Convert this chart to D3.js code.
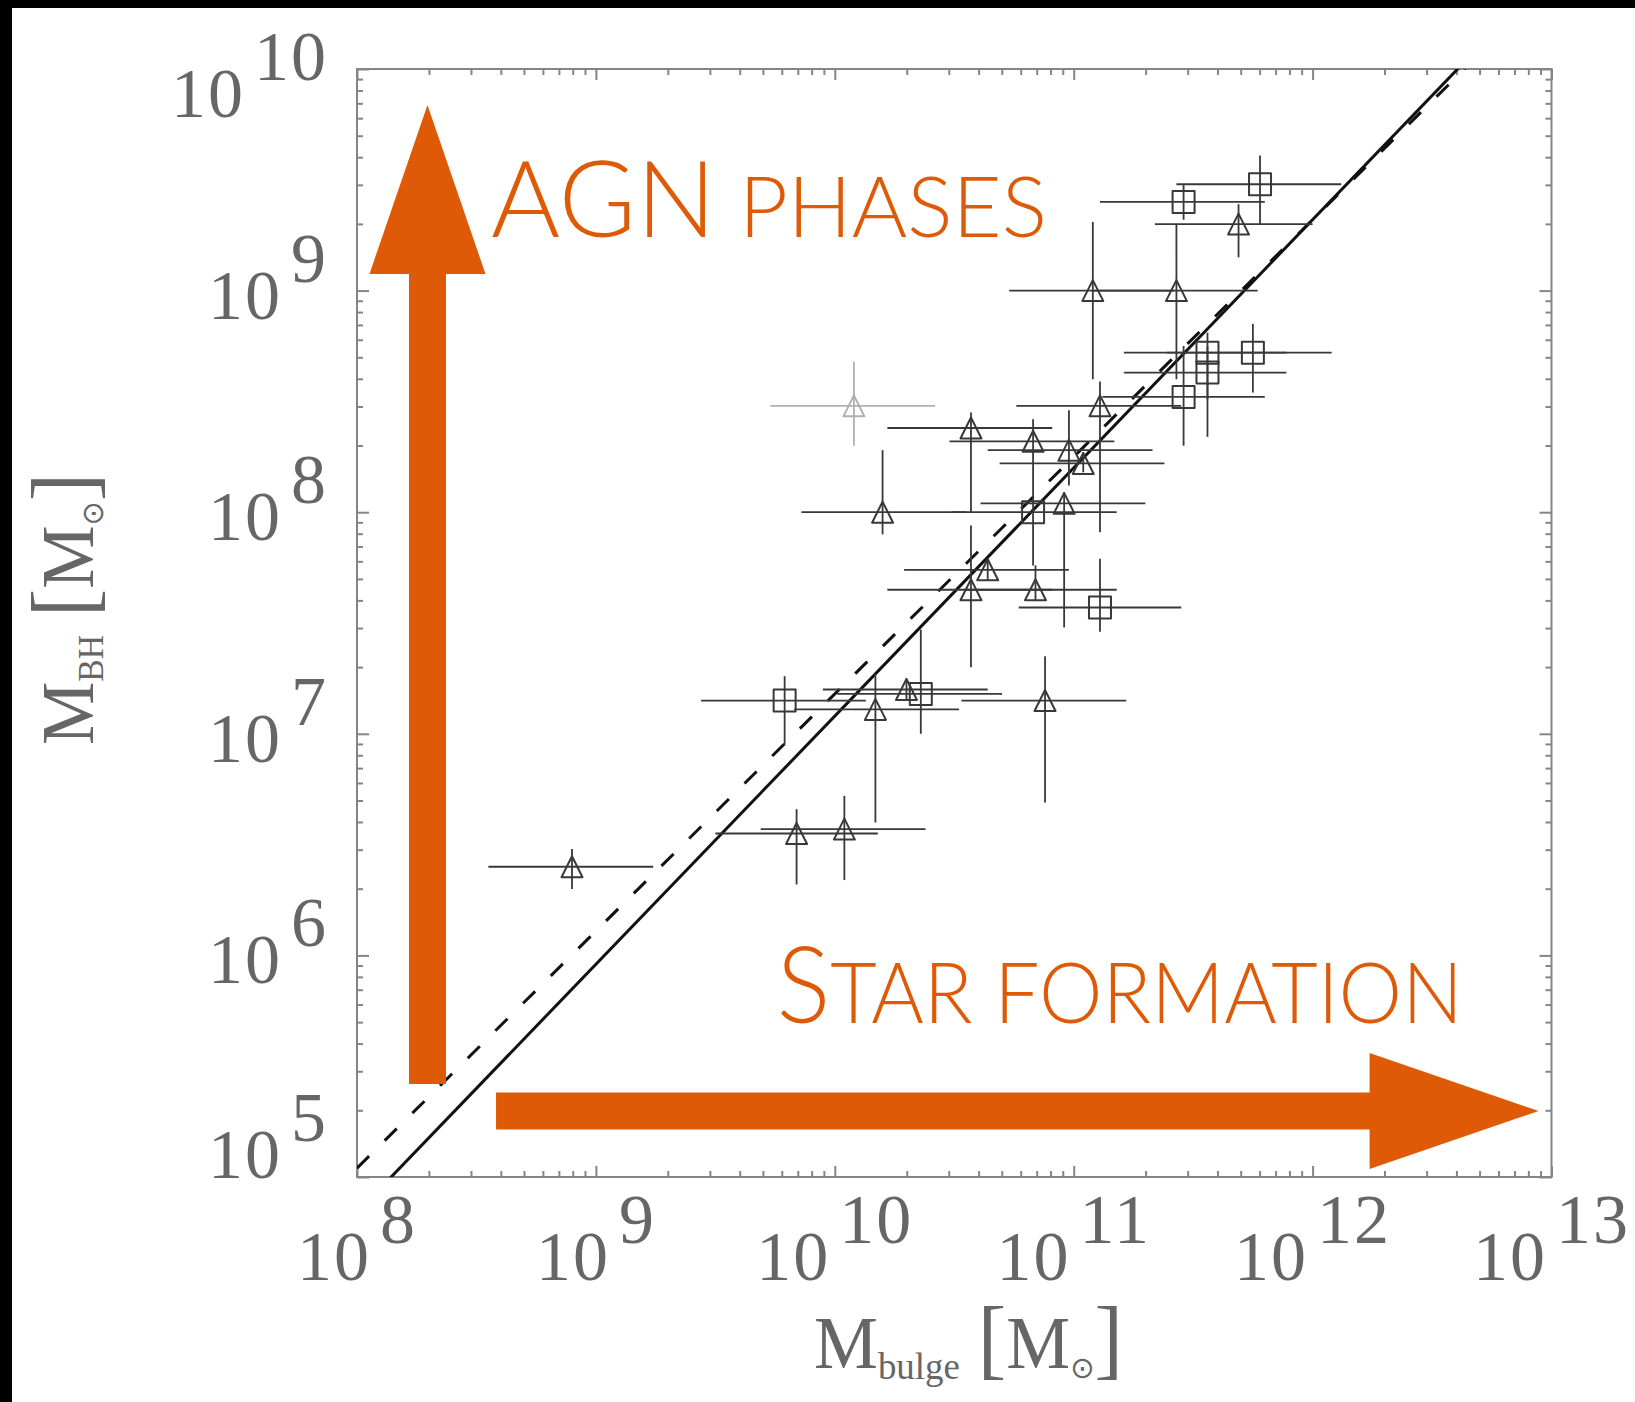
<!DOCTYPE html>
<html>
<head>
<meta charset="utf-8">
<script src="https://cdn.jsdelivr.net/npm/d3@7/dist/d3.min.js"></script>
<style>
body { margin: 0; background: #fff; }
svg { display: block; }
</style>
</head>
<body>
<div id="chart"></div>
<script>
// one entry per galaxy, all masses as log10(M / Msun)
var marker = ["t","t","t","t","t","t","t","t","t","t","t","t","t","t","t","t","t","t","t","t",
              "s","s","s","s","s","s","s","s","s","s"];
var logMbulge   = [8.90, 9.84, 10.04, 10.17, 10.30, 10.88, 10.57, 10.64, 10.84, 10.20, 10.96, 10.57, 10.83, 10.98, 11.04, 11.11, 11.08, 11.43, 11.69, 10.08,
                   9.79, 10.36, 10.83, 11.11, 11.46, 11.56, 11.56, 11.75, 11.46, 11.78];
var logMbulgeLo = [8.55, 9.50, 9.69, 9.83, 9.95, 10.53, 10.22, 10.29, 10.54, 9.86, 10.61, 10.22, 10.48, 10.64, 10.69, 10.76, 10.73, 11.08, 11.34, 9.73,
                   9.44, 10.01, 10.49, 10.77, 11.12, 11.21, 11.21, 11.39, 11.11, 11.43];
var logMbulgeHi = [9.24, 10.18, 10.38, 10.52, 10.64, 11.22, 10.91, 10.98, 11.18, 10.55, 11.30, 10.91, 11.17, 11.33, 11.38, 11.45, 11.42, 11.77, 12.00, 10.42,
                   10.13, 10.70, 11.18, 11.45, 11.80, 11.89, 11.89, 12.08, 11.80, 12.12];
var logMbh      = [6.40, 6.55, 6.57, 7.11, 7.20, 7.15, 7.65, 7.74, 7.65, 8.00, 8.04, 8.38, 8.32, 8.28, 8.22, 8.48, 9.00, 9.00, 9.30, 8.48,
                   7.15, 7.18, 8.00, 7.57, 8.52, 8.72, 8.63, 8.72, 9.40, 9.48];
var logMbhLo    = [6.30, 6.32, 6.34, 6.60, 7.15, 6.69, 7.30, 7.69, 7.60, 7.90, 7.48, 8.00, 8.19, 8.12, 8.18, 7.91, 8.60, 8.60, 9.15, 8.30,
                   6.95, 7.00, 7.76, 7.46, 8.30, 8.51, 8.34, 8.54, 9.32, 9.30];
var logMbhHi    = [6.48, 6.66, 6.72, 7.27, 7.25, 7.35, 7.94, 7.79, 7.76, 8.28, 8.09, 8.45, 8.42, 8.46, 8.27, 8.59, 9.31, 9.30, 9.39, 8.68,
                   7.26, 7.47, 8.19, 7.79, 8.75, 8.81, 8.75, 8.85, 9.48, 9.61];
var faded       = [0,0,0,0,0,0,0,0,0,0,0,0,0,0,0,0,0,0,0,1, 0,0,0,0,0,0,0,0,0,0];

// fitted relations: log MBH = norm + slope * (log Mbulge - 11)
var fitNorm  = [8.20, 8.25];
var fitSlope = [1.12, 1.07];
var fitDash  = [null, "17,22"];

var xTickExp = [8, 9, 10, 11, 12, 13];
var yTickExp = [5, 6, 7, 8, 9, 10];

// annotation arrows and words (data units, log10)
var arrowFrom = [[8.295, 5.42], [8.582, 5.298]];
var arrowTo   = [[8.295, 9.838], [12.946, 5.298]];
var wordBig   = ["AGN", "S"];
var wordSmall = [" PHASES", "TAR FORMATION"];
var wordAt    = [[8.561, 9.240], [9.757, 5.695]];
var wordLen   = [556, 686];

var W = 1635, H = 1402;
var orange = "#de5a06";
var labGrey = "#666";
var frameGrey = "#858585";

var svg = d3.select("#chart").append("svg")
    .attr("width", W)
    .attr("height", H);

svg.append("rect").attr("width", W).attr("height", H).attr("fill", "#fff");
svg.append("rect").attr("width", W).attr("height", 8).attr("fill", "#000");
svg.append("rect").attr("width", 12).attr("height", H).attr("fill", "#000");

var pLeft = 357, pRight = 1551.5, pTop = 69, pBottom = 1177;

var x = d3.scaleLog().domain([1e8, 1e13]).range([pLeft, pRight]);
var y = d3.scaleLog().domain([1e5, 1e10]).range([pBottom, pTop]);
function px(v) { return x(Math.pow(10, v)); }
function py(v) { return y(Math.pow(10, v)); }

// ticks on all four sides
var xMajor = xTickExp.map(function(e) { return Math.pow(10, e); });
var yMajor = yTickExp.map(function(e) { return Math.pow(10, e); });
var xMinor = [], yMinor = [];
for (var e = 8; e < 13; e++) for (var k = 2; k < 10; k++) xMinor.push(k * Math.pow(10, e));
for (var e = 5; e < 10; e++) for (var k = 2; k < 10; k++) yMinor.push(k * Math.pow(10, e));

function tickAxis(axis, vals, len, tr) {
    var g = svg.append("g").attr("transform", tr)
        .call(axis.tickValues(vals).tickSize(-len).tickFormat(""));
    g.select(".domain").remove();
    g.selectAll("line").attr("stroke", frameGrey).attr("stroke-width", 2);
}
tickAxis(d3.axisBottom(x), xMajor, 11, "translate(0," + pBottom + ")");
tickAxis(d3.axisBottom(x), xMinor, 6, "translate(0," + pBottom + ")");
tickAxis(d3.axisTop(x), xMajor, 11, "translate(0," + pTop + ")");
tickAxis(d3.axisTop(x), xMinor, 6, "translate(0," + pTop + ")");
tickAxis(d3.axisLeft(y), yMajor, 12, "translate(" + pLeft + ",0)");
tickAxis(d3.axisLeft(y), yMinor, 6, "translate(" + pLeft + ",0)");
tickAxis(d3.axisRight(y), yMajor, 12, "translate(" + pRight + ",0)");
tickAxis(d3.axisRight(y), yMinor, 6, "translate(" + pRight + ",0)");

svg.append("rect")
    .attr("x", pLeft).attr("y", pTop)
    .attr("width", pRight - pLeft).attr("height", pBottom - pTop)
    .attr("fill", "none")
    .attr("stroke", frameGrey)
    .attr("stroke-width", 2);

// tick labels 10^n
function powLabel(t, e) {
    t.append("tspan").text("10");
    t.append("tspan").attr("dx", 9).attr("dy", -37).text(e);
}
svg.append("g").selectAll("text").data(xTickExp).enter().append("text")
    .attr("x", function(d) { return px(d); })
    .attr("y", pBottom + 103)
    .attr("text-anchor", "middle")
    .attr("font-family", "'Liberation Serif', 'DejaVu Serif', serif")
    .attr("font-size", 70)
    .attr("letter-spacing", 2)
    .attr("fill", labGrey)
    .each(function(d) { powLabel(d3.select(this), d); });

svg.append("g").selectAll("text").data(yTickExp).enter().append("text")
    .attr("x", pLeft - 29)
    .attr("y", function(d, i) {
        // outermost labels are pulled inside the axis range
        var off = 28;
        if (i == 0) off = 1;
        if (i == yTickExp.length - 1) off = 48;
        return py(d) + off;
    })
    .attr("text-anchor", "end")
    .attr("font-family", "'Liberation Serif', 'DejaVu Serif', serif")
    .attr("font-size", 70)
    .attr("letter-spacing", 2)
    .attr("fill", labGrey)
    .each(function(d) { powLabel(d3.select(this), d); });

// axis titles
function title(t, sub, subSize, subDy) {
    t.append("tspan").text("M");
    t.append("tspan").attr("font-size", subSize).attr("dy", subDy).text(sub);
    t.append("tspan").attr("dy", -subDy).text(" ");
    t.append("tspan").attr("font-size", 88).text("[");
    t.append("tspan").text("M");
    t.append("tspan").attr("font-size", 30).attr("dy", 10)
        .attr("font-family", "'DejaVu Sans', sans-serif").text("\u2299");
    t.append("tspan").attr("font-size", 88).attr("dy", -10).text("]");
}
var xt = svg.append("text")
    .attr("x", 814).attr("y", 1368)
    .attr("font-family", "'Liberation Serif', 'DejaVu Serif', serif")
    .attr("font-size", 74)
    .attr("fill", labGrey)
    .attr("textLength", 309)
    .attr("lengthAdjust", "spacingAndGlyphs");
title(xt, "bulge", 38, 11);

var yt = svg.append("text")
    .attr("transform", "translate(93,745) rotate(-90)")
    .attr("font-family", "'Liberation Serif', 'DejaVu Serif', serif")
    .attr("font-size", 74)
    .attr("fill", labGrey)
    .attr("textLength", 272)
    .attr("lengthAdjust", "spacingAndGlyphs");
title(yt, "BH", 35, 10);

// plot area
svg.append("clipPath").attr("id", "clip").append("rect")
    .attr("x", pLeft).attr("y", pTop)
    .attr("width", pRight - pLeft).attr("height", pBottom - pTop);
var plot = svg.append("g").attr("clip-path", "url(#clip)");

// fit lines
plot.selectAll(".fit").data(fitNorm).enter().append("line")
    .attr("class", "fit")
    .attr("x1", px(8)).attr("x2", px(13))
    .attr("y1", function(d, i) { return py(d + fitSlope[i] * (8 - 11)); })
    .attr("y2", function(d, i) { return py(d + fitSlope[i] * (13 - 11)); })
    .attr("stroke", "#111")
    .attr("stroke-width", 3)
    .attr("stroke-dasharray", function(d, i) { return fitDash[i]; });

// error bars and markers
var idx = d3.range(logMbulge.length);
var pts = plot.selectAll(".pt").data(idx).enter().append("g")
    .attr("class", "pt")
    .attr("stroke", function(i) { return faded[i] ? "#b0b0b0" : "#383838"; })
    .attr("fill", "none");

pts.append("line")
    .attr("x1", function(i) { return px(logMbulgeLo[i]); })
    .attr("x2", function(i) { return px(logMbulgeHi[i]); })
    .attr("y1", function(i) { return py(logMbh[i]); })
    .attr("y2", function(i) { return py(logMbh[i]); })
    .attr("stroke-width", 1.8);
pts.append("line")
    .attr("x1", function(i) { return px(logMbulge[i]); })
    .attr("x2", function(i) { return px(logMbulge[i]); })
    .attr("y1", function(i) { return py(logMbhLo[i]); })
    .attr("y2", function(i) { return py(logMbhHi[i]); })
    .attr("stroke-width", 1.8);

var triangle = "M0,-10.5L10.5,10.5L-10.5,10.5Z";
var square = "M-11,-11H11V11H-11Z";
pts.append("path")
    .attr("transform", function(i) { return "translate(" + px(logMbulge[i]) + "," + py(logMbh[i]) + ")"; })
    .attr("d", function(i) { return marker[i] == "t" ? triangle : square; })
    .attr("stroke-width", 2)
    .attr("stroke-linejoin", "round");

// orange arrows
var shaftHalf = 18.5, headHalf = 58, headLen = 169;
var arrowLine = d3.line();
svg.append("g").selectAll("path").data(arrowFrom).enter().append("path")
    .attr("d", function(d, i) {
        var x0 = px(d[0]), y0 = py(d[1]);
        var x1 = px(arrowTo[i][0]), y1 = py(arrowTo[i][1]);
        var len = Math.hypot(x1 - x0, y1 - y0);
        var ux = (x1 - x0) / len, uy = (y1 - y0) / len;
        var nx = -uy, ny = ux;
        var bx = x1 - ux * headLen, by = y1 - uy * headLen;
        return arrowLine([
            [x0 + nx * shaftHalf, y0 + ny * shaftHalf],
            [bx + nx * shaftHalf, by + ny * shaftHalf],
            [bx + nx * headHalf, by + ny * headHalf],
            [x1, y1],
            [bx - nx * headHalf, by - ny * headHalf],
            [bx - nx * shaftHalf, by - ny * shaftHalf],
            [x0 - nx * shaftHalf, y0 - ny * shaftHalf]
        ]) + "Z";
    })
    .attr("fill", orange);

// orange words, small-caps style
svg.append("g").selectAll("text").data(wordAt).enter().append("text")
    .attr("x", function(d) { return px(d[0]); })
    .attr("y", function(d) { return py(d[1]); })
    .attr("font-family", "Lato, Roboto, 'Open Sans', sans-serif")
    .attr("font-weight", 300)
    .attr("fill", orange)
    .attr("textLength", function(d, i) { return wordLen[i]; })
    .attr("lengthAdjust", "spacingAndGlyphs")
    .each(function(d, i) {
        var t = d3.select(this);
        t.append("tspan").attr("font-size", 106).text(wordBig[i]);
        t.append("tspan").attr("font-size", 85).text(wordSmall[i]);
    });
</script>
</body>
</html>
